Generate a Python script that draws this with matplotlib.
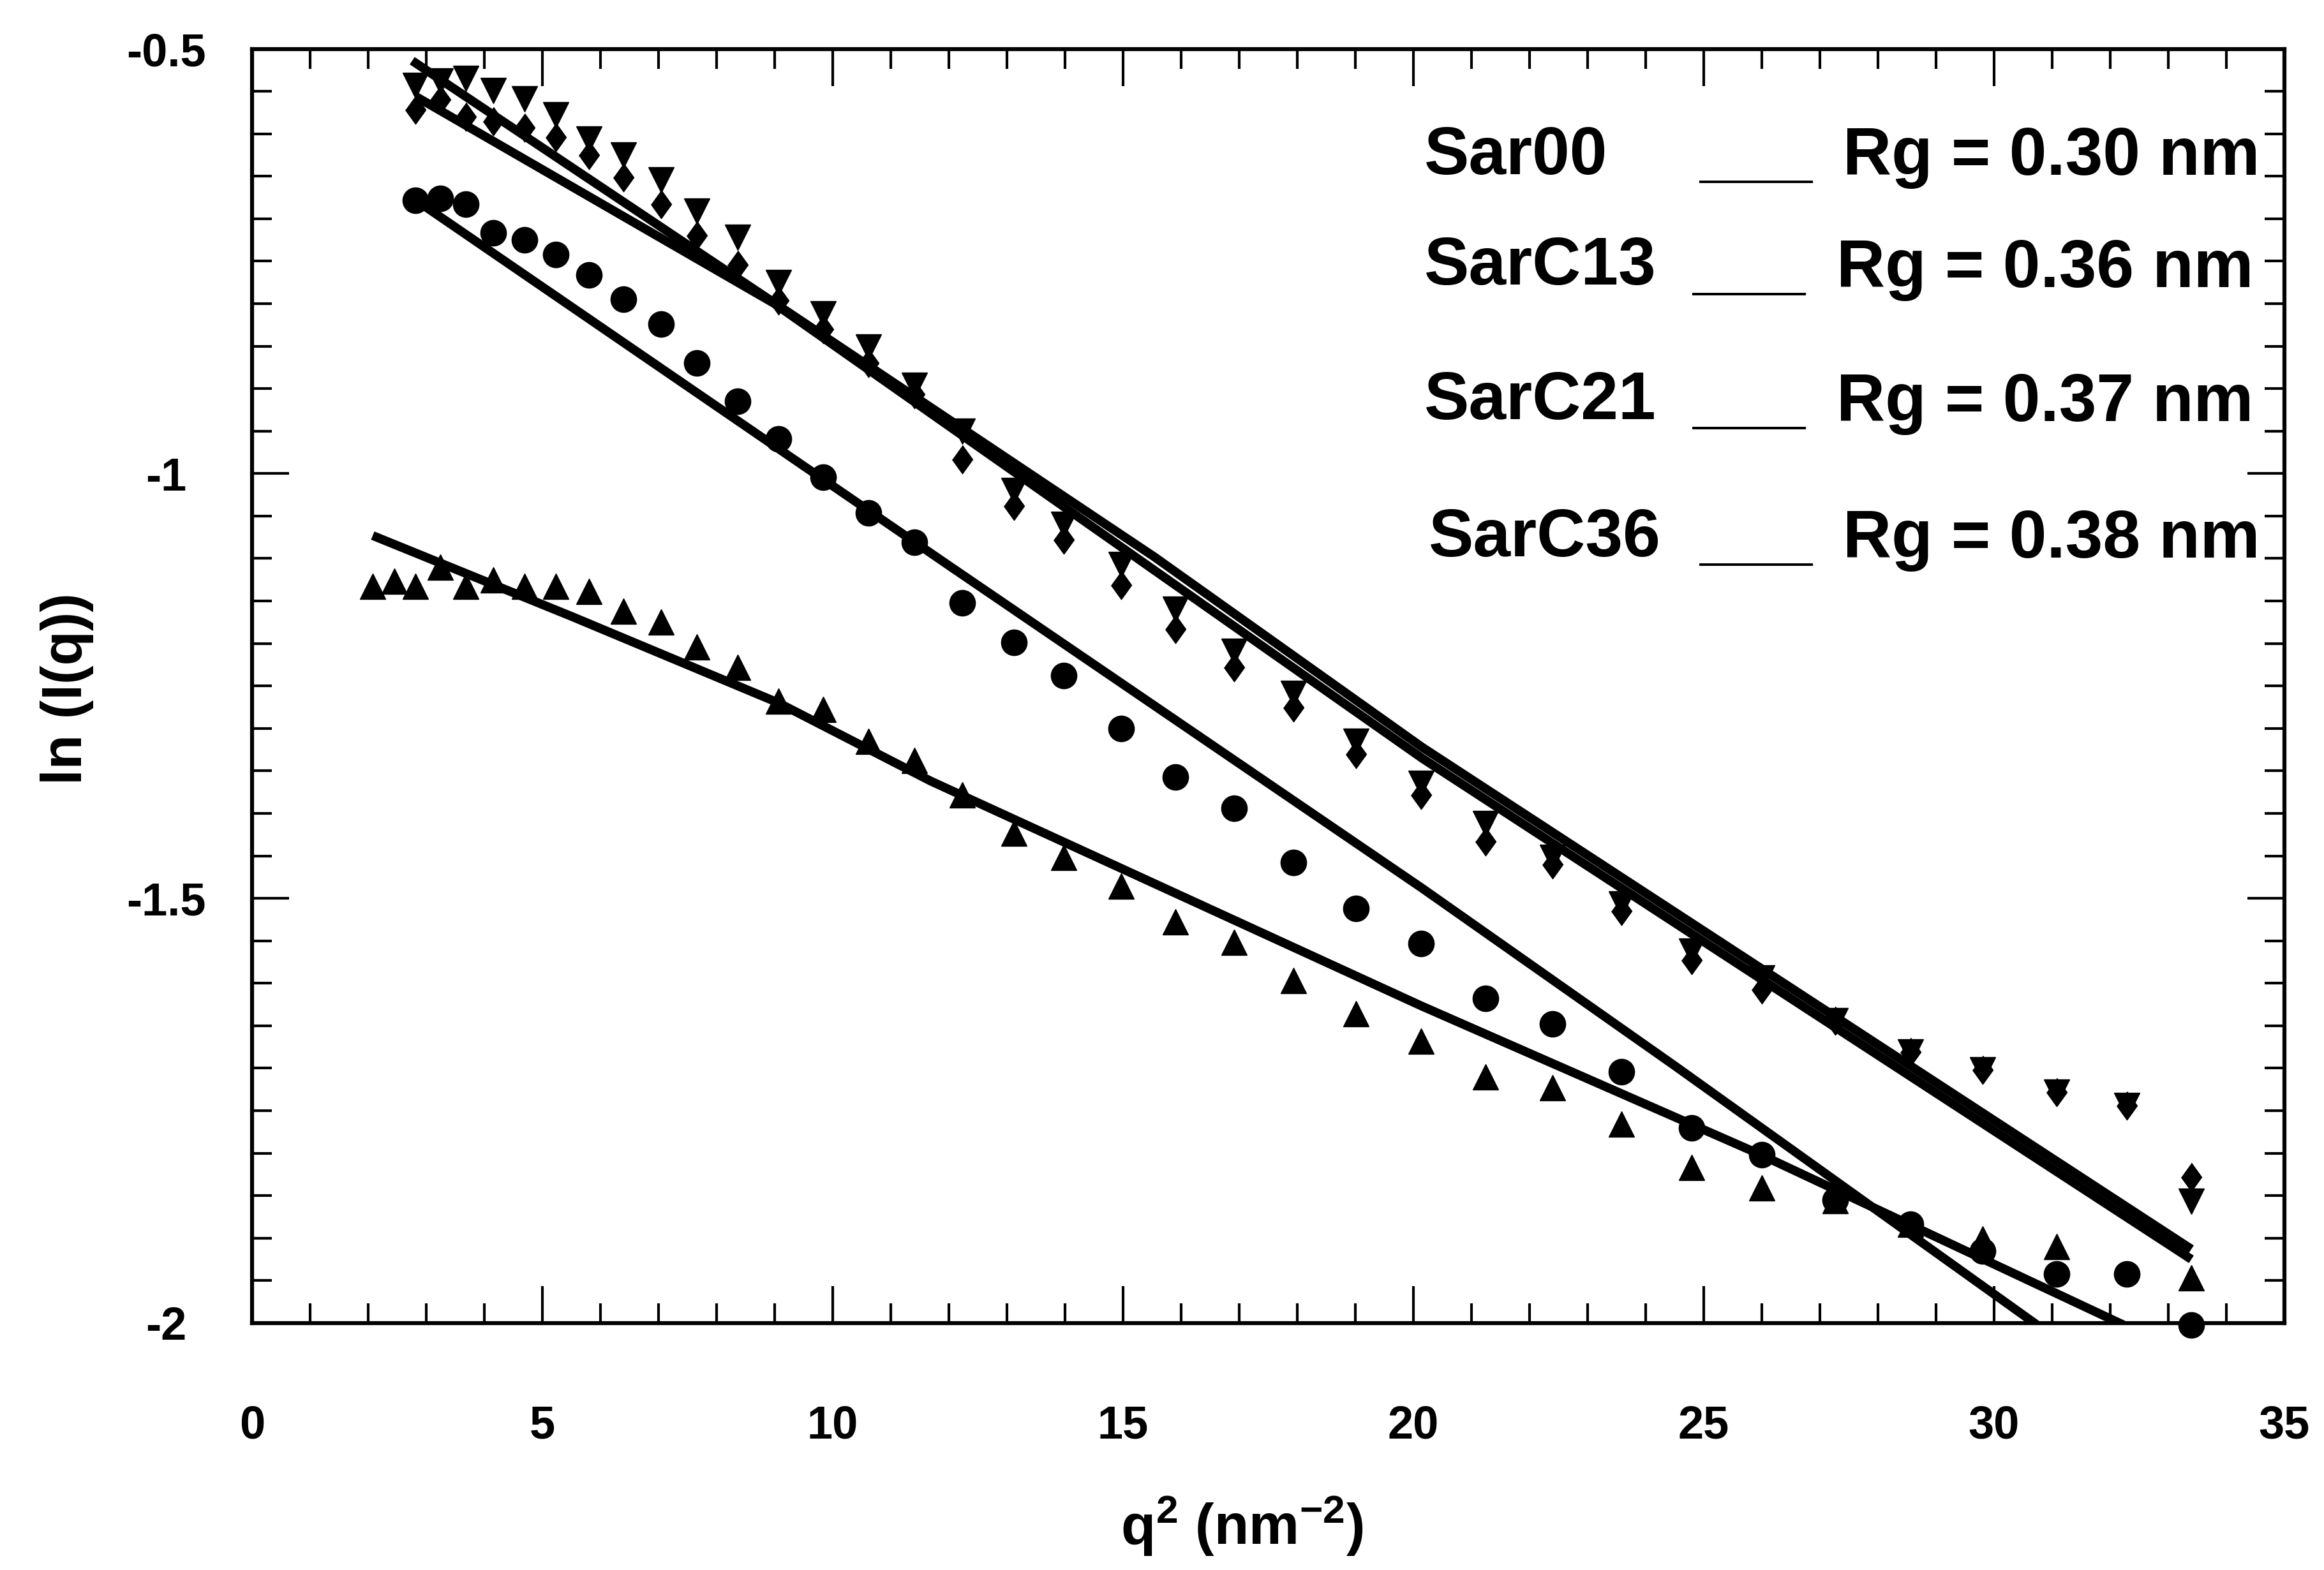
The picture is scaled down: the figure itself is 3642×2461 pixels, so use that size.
import numpy as np
import matplotlib.pyplot as plt
from matplotlib.ticker import MultipleLocator, FixedLocator

# Шрифты: жирный Arial-подобный
plt.rcParams['font.family'] = ['Liberation Sans', 'DejaVu Sans']
plt.rcParams['font.weight'] = 'bold'
plt.rcParams['axes.unicode_minus'] = False
plt.rcParams['mathtext.fontset'] = 'custom'
plt.rcParams['mathtext.bf'] = 'Liberation Sans:bold'
plt.rcParams['mathtext.rm'] = 'Liberation Sans:bold'
plt.rcParams['mathtext.default'] = 'bf'

nan = np.nan

# Данные (q^2 в nm^-2, ln I(q))
q2 = [2.08, 2.45, 2.82, 3.24, 3.68, 4.16, 4.69, 5.23, 5.81, 6.40, 7.05, 7.66,
      8.36, 9.07, 9.84, 10.62, 11.41, 12.23, 13.12, 13.98, 14.97, 15.90, 16.91,
      17.94, 19.01, 20.13, 21.24, 22.40, 23.58, 24.79, 26.00, 27.27, 28.56,
      29.81, 31.08, 32.29, 33.40]

# треугольники вверх
sar00 = [-1.133, -1.127, -1.133, -1.110, -1.133, -1.125, -1.133, -1.133, -1.139,
         -1.162, -1.175, -1.204, -1.228, -1.268, -1.278, -1.315, -1.338, -1.378,
         -1.423, -1.452, -1.486, -1.528, -1.552, -1.597, -1.636, -1.668, -1.710,
         -1.723, -1.766, -1.817, -1.841, -1.856, -1.884, -1.901, -1.910, nan, -1.947]

# ромбы
sarc13 = [nan, nan, -0.572, -0.560, -0.580, -0.585, -0.593, -0.604, -0.625,
          -0.651, -0.683, -0.720, -0.754, -0.796, -0.830, -0.870, -0.907, -0.983,
          -1.038, -1.078, -1.131, -1.183, -1.228, -1.275, -1.330, -1.378, -1.433,
          -1.460, -1.515, -1.573, -1.607, -1.644, -1.681, -1.702, -1.728, -1.744, -1.828]

# треугольники вниз
sarc21 = [nan, nan, -0.543, -0.538, -0.535, -0.549, -0.559, -0.578, -0.606,
          -0.625, -0.654, -0.691, -0.722, -0.775, -0.812, -0.851, -0.896, -0.950,
          -1.020, -1.060, -1.107, -1.160, -1.209, -1.259, -1.315, -1.365, -1.412,
          -1.452, -1.507, -1.562, -1.594, -1.644, -1.681, -1.702, -1.728, -1.744, -1.857]

# кружки
sarc36 = [nan, nan, -0.678, -0.676, -0.683, -0.717, -0.725, -0.742, -0.766,
          -0.795, -0.824, -0.870, -0.915, -0.959, -1.004, -1.046, -1.081, -1.152,
          -1.199, -1.238, -1.300, -1.357, -1.394, -1.458, -1.512, -1.553, -1.618,
          -1.648, -1.704, -1.770, -1.802, -1.855, -1.884, -1.915, -1.942, -1.942, -2.002]

# Аппроксимирующие прямые (Гинье)
fit00_x = [2.08, 5.5, 9.07, 11.69, 20.15, 25.99, 32.38]
fit00_y = [-1.073, -1.168, -1.27, -1.362, -1.627, -1.802, -2.007]
fit13_x = [2.82, 9.0, 20.15, 33.40]
fit13_y = [-0.556, -0.80, -1.335, -1.925]
fit21_x = [2.76, 15.54, 20.15, 33.40]
fit21_y = [-0.514, -1.098, -1.322, -1.913]
fit36_x = [2.82, 12.04, 20.15, 24.5, 30.8]
fit36_y = [-0.678, -1.110, -1.488, -1.697, -2.005]

names = ['Sar00', 'SarC13', 'SarC21', 'SarC36']
rg_text = ['Rg = 0.30 nm', 'Rg = 0.36 nm', 'Rg = 0.37 nm', 'Rg = 0.38 nm']

W, H = 3642, 2461
fig = plt.figure(figsize=(W / 100, H / 100), dpi=100)
ax = fig.add_axes([0.1084, 0.1573, 0.8745, 0.8116])

diamond = [(0, 1), (0.72, 0), (0, -1), (-0.72, 0)]

for fx, fy in [(fit00_x, fit00_y), (fit13_x, fit13_y), (fit21_x, fit21_y), (fit36_x, fit36_y)]:
    ax.plot(fx, fy, color='black', lw=10, solid_capstyle='butt', solid_joinstyle='round')

ax.plot(q2, sar00, ls='none', marker='^', ms=29, color='black', clip_on=False)
ax.plot(q2, sarc13, ls='none', marker=diamond, ms=32, color='black', clip_on=False)
ax.plot(q2, sarc21, ls='none', marker='v', ms=29, color='black', clip_on=False)
ax.plot(q2, sarc36, ls='none', marker='o', ms=29, color='black', clip_on=False)

ax.set_xlim(0, 35)
ax.set_ylim(-2, -0.5)
ax.xaxis.set_major_locator(MultipleLocator(5))
ax.xaxis.set_minor_locator(MultipleLocator(1))
ax.yaxis.set_major_locator(FixedLocator([-2, -1.5, -1, -0.5]))
ax.yaxis.set_minor_locator(MultipleLocator(0.05))
ax.set_yticklabels(['-2', '-1.5', '-1', '-0.5'])

for s in ax.spines.values():
    s.set_linewidth(4.5)
ax.tick_params(which='both', direction='in', top=True, right=True, width=3)
ax.tick_params(which='major', length=42)
ax.tick_params(which='minor', length=22)
ax.tick_params(axis='x', labelsize=52, pad=92)
ax.tick_params(axis='y', labelsize=52, pad=97)
for lab in ax.get_yticklabels():
    lab.set_ha('center')

# Подписи осей
fig.text(105 / W, 1 - 1080 / H, 'ln (I(q))', rotation=90, ha='center', va='center', fontsize=64)
fig.text(1946 / W, 1 - 2392 / H, r'q$^{2}$ (nm$^{-2}$)', ha='center', va='center', fontsize=64)

# Легенда текстом
name_pos = [(2232, 273), (2232, 446), (2232, 657), (2239, 872)]
line_pos = [(2664, 274), (2653, 450), (2653, 660), (2664, 874)]
rg_pos = [(2888, 274), (2878, 450), (2878, 660), (2888, 874)]
for i in range(4):
    fig.text(name_pos[i][0] / W, 1 - name_pos[i][1] / H, names[i], fontsize=76, va='baseline')
    fig.text(line_pos[i][0] / W, 1 - line_pos[i][1] / H, '___', fontsize=76, va='baseline')
    fig.text(rg_pos[i][0] / W, 1 - rg_pos[i][1] / H, rg_text[i], fontsize=76, va='baseline')

fig.savefig('out.png', dpi=100, facecolor='white')
